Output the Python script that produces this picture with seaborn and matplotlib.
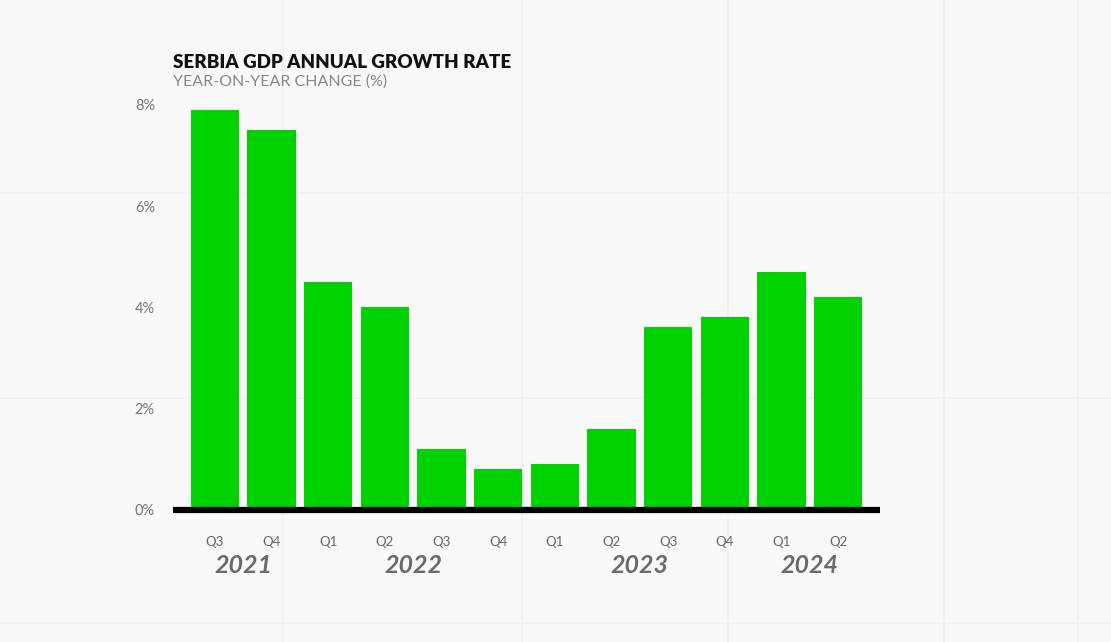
import matplotlib
matplotlib.use("Agg")
import matplotlib.pyplot as plt
import seaborn as sns
import pandas as pd

quarters = ["Q3", "Q4", "Q1", "Q2", "Q3", "Q4", "Q1", "Q2", "Q3", "Q4", "Q1", "Q2"]
years = ["2021", "2021", "2022", "2022", "2022", "2022", "2023", "2023", "2023", "2023", "2024", "2024"]
growth = [7.9, 7.5, 4.5, 4.0, 1.2, 0.8, 0.9, 1.6, 3.6, 3.8, 4.7, 4.2]
ytick_values = [0, 2, 4, 6, 8]
ytick_labels = ["0%", "2%", "4%", "6%", "8%"]
year_labels = ["2021", "2022", "2023", "2024"]
year_positions = [0.5, 3.5, 7.5, 10.5]

df = pd.DataFrame({"idx": list(range(len(growth))), "label": [f"{q} {y}" for q, y in zip(quarters, years)], "growth": growth})

sns.set_theme(style="white")
plt.rcParams["font.family"] = ["Lato", "DejaVu Sans"]

bg = "#f9f9f9"
fig = plt.figure(figsize=(11.11, 6.42), dpi=100, facecolor=bg)
ax = fig.add_axes([173/1111, 1-509.5/642, (880-173)/1111, (509.5-105)/642])
ax.set_facecolor("none")

# faint paper grid
for xv in [0.255, 0.47, 0.655, 0.85, 0.97]:
    fig.add_artist(plt.Line2D([xv, xv], [0, 1], color="#f0f0f0", lw=1.2, zorder=0))
for yv in [0.7, 0.38, 0.03]:
    fig.add_artist(plt.Line2D([0, 1], [yv, yv], color="#f1f1f1", lw=1.2, zorder=0))

sns.barplot(data=df, x="idx", y="growth", color="#00d100", saturation=1, width=0.85, ax=ax, zorder=2)
for p in ax.patches:
    p.set_edgecolor("none")

ax.set_xlim(-0.74, 11.74)
ax.set_ylim(0, 8)
ax.axhline(0, color="black", lw=4.5, zorder=3, clip_on=False, solid_capstyle="butt")

for s in ax.spines.values():
    s.set_visible(False)
ax.set_xlabel("")
ax.set_ylabel("")
ax.set_yticks(ytick_values)
ax.set_yticklabels(ytick_labels, color="#777777", fontsize=10.5)
ax.tick_params(axis="y", length=0, pad=13)
ax.set_xticks(range(len(quarters)))
ax.set_xticklabels(quarters, color="#666666", fontsize=9.5)
ax.tick_params(axis="x", length=0, pad=19)

for yl, xp in zip(year_labels, year_positions):
    ax.text(xp, -1.1, yl, ha="center", va="center", fontsize=18, fontstyle="italic",
            fontweight="bold", color="#6b6b6b", transform=ax.transData)

fig.text(173/1111, 1-62/642, "SERBIA GDP ANNUAL GROWTH RATE", ha="left", va="center",
         fontsize=13.5, fontweight="heavy", color="#111111")
fig.text(173/1111, 1-82/642, "YEAR-ON-YEAR CHANGE (%)", ha="left", va="center",
         fontsize=11.5, color="#888888")

fig.savefig("out.png", dpi=100, facecolor=bg)
